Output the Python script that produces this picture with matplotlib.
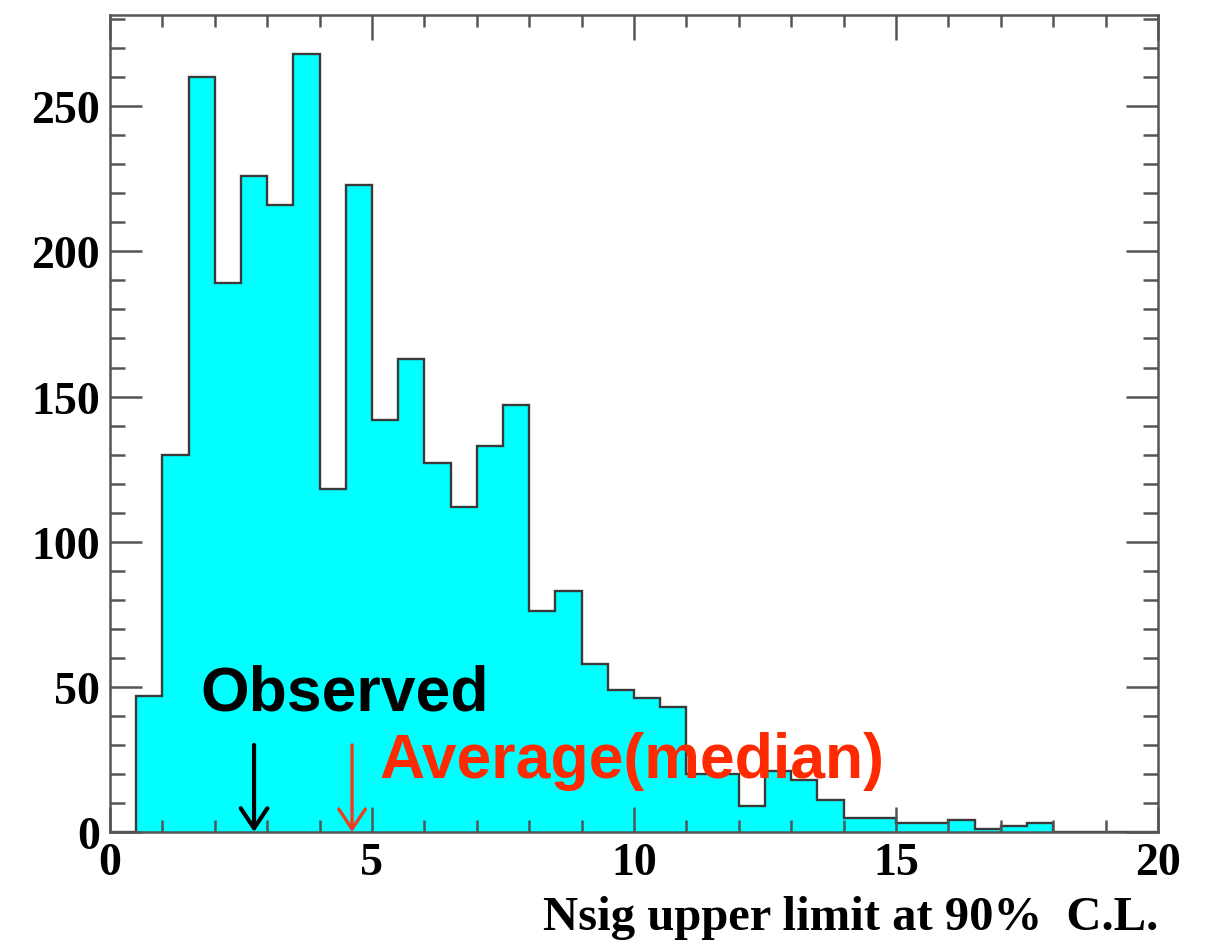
import numpy as np
import matplotlib
matplotlib.use("Agg")
import matplotlib.pyplot as plt
from matplotlib.ticker import MultipleLocator

# Toy MC upper limits on Nsig, 0.5-wide bins from 0 to 20
bin_lo, bin_hi, bin_w = 0.0, 20.0, 0.5
counts = [0, 47, 130, 260, 189, 226, 216, 268, 118, 223,
          142, 163, 127, 112, 133, 147, 76, 83, 58, 49,
          46, 43, 20, 20, 9, 21, 18, 11, 5, 5,
          3, 3, 4, 1, 2, 3, 0, 0, 0, 0]
observed_ul = 2.75
median_ul = 4.62
arrow_start = 30

edges = np.arange(bin_lo, bin_hi + bin_w / 2, bin_w)

fig = plt.figure(figsize=(12.11, 9.45), dpi=100)
ax = fig.add_axes([0.0908, 0.1185, 0.8654, 0.8645])

ax.stairs(counts, edges, fill=True, color="#00ffff", zorder=1)
ax.stairs(counts, edges, baseline=0, color="#3a3a3a", lw=1.7, zorder=1.2)

ax.set_xlim(bin_lo, bin_hi)
ax.set_ylim(0, max(counts) * 1.05)

serif = "Liberation Serif"
ax.xaxis.set_major_locator(MultipleLocator(5))
ax.xaxis.set_minor_locator(MultipleLocator(1))
ax.yaxis.set_major_locator(MultipleLocator(50))
ax.yaxis.set_minor_locator(MultipleLocator(10))
ax.tick_params(which="both", direction="in", top=True, right=True,
               color="#555555", width=1.8)
ax.tick_params(axis="x", which="major", length=18, pad=7)
ax.tick_params(axis="x", which="minor", length=8.5)
ax.tick_params(axis="y", which="major", length=23, pad=7)
ax.tick_params(axis="y", which="minor", length=10.5)
for lab in ax.get_xticklabels() + ax.get_yticklabels():
    lab.set_fontfamily(serif)
    lab.set_fontweight("bold")
    lab.set_fontsize(33)
for sp in ax.spines.values():
    sp.set_color("#555555")
    sp.set_linewidth(1.8)

ax.set_xlabel("Nsig upper limit at 90%  C.L.", loc="right", fontfamily=serif,
              fontweight="bold", fontsize=35, labelpad=8)

# observed and median expected limits
head = "->,head_length=0.36,head_width=0.24"
ax.annotate("", xy=(observed_ul, 0), xytext=(observed_ul, arrow_start),
            arrowprops=dict(arrowstyle=head, color="black", lw=3.0,
                            mutation_scale=40, shrinkA=0, shrinkB=0), zorder=4)
ax.annotate("", xy=(median_ul, 0), xytext=(median_ul, arrow_start),
            arrowprops=dict(arrowstyle=head, color="#f03c1e", lw=2.4,
                            mutation_scale=40, shrinkA=0, shrinkB=0), zorder=4)
ax.text(1.73, 42.3, "Observed", fontfamily="Liberation Sans", fontweight="bold",
        fontsize=45, color="black", va="baseline", ha="left", zorder=5)
ax.text(5.15, 18.9, "Average(median)", fontfamily="Liberation Sans",
        fontweight="bold", fontsize=45, color="#ff2a00", va="baseline",
        ha="left", zorder=5)

fig.savefig("out.png", dpi=100)
